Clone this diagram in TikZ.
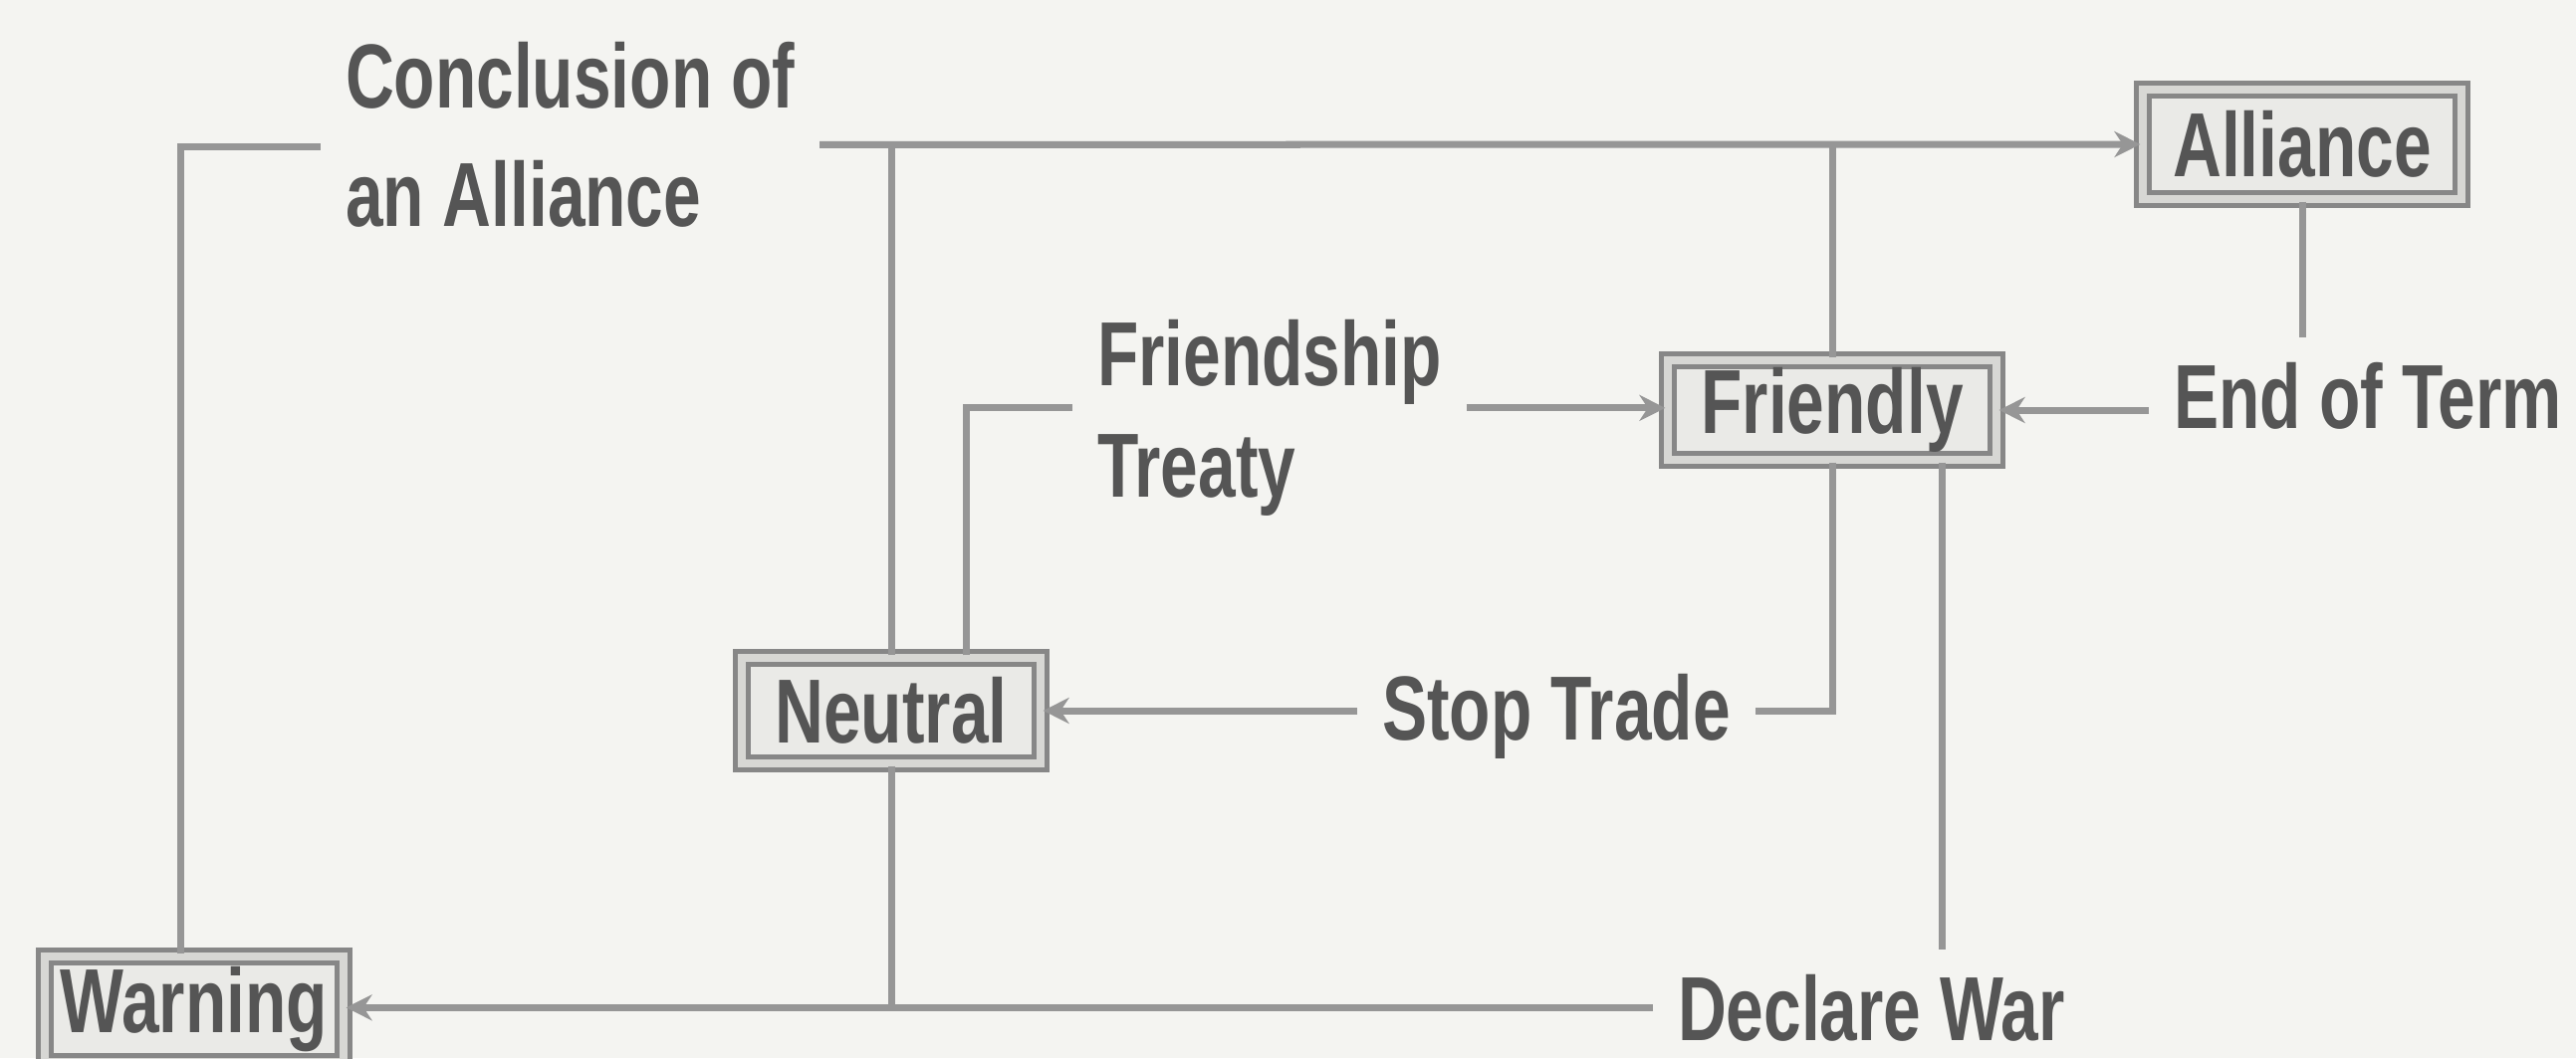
\documentclass[tikz,border=0pt]{standalone}
\usepackage{fontspec}
\setmainfont{Liberation Sans}[FakeStretch=0.74]
\usetikzlibrary{arrows.meta}
\definecolor{bgc}{RGB}{244,244,241}
\definecolor{linec}{RGB}{150,150,150}
\definecolor{txtc}{RGB}{85,85,85}
\definecolor{boxc}{RGB}{135,135,135}
\definecolor{boxin}{RGB}{215,215,212}
\definecolor{boxfill}{RGB}{234,234,231}
\begin{document}
\begin{tikzpicture}[x=0.01cm,y=-0.01cm,
  every node/.style={font=\fontsize{26}{33}\selectfont\bfseries, text=txtc},
  stbox/.style={draw=boxc, line width=0.5mm, double=boxin, double distance=0.8mm, fill=boxfill, inner sep=0pt},
  lbl/.style={inner sep=0pt, outer sep=0.25cm},
  conn/.style={draw=linec, line width=0.7mm},
  arr/.style={conn, -{Stealth[length=2.6mm,width=2.6mm]}}]
\fill[bgc] (0,0) rectangle (2587,1063);
\useasboundingbox (0,0) rectangle (2587,1063);

% state boxes
\node[stbox, minimum width=3.2cm, minimum height=1.1cm] (alliance) at (2312,145) {Alliance};
\node[stbox, minimum width=3.3cm, minimum height=1.0cm] (friendly) at (1840,412) {Friendly};
\node[stbox, minimum width=3.0cm, minimum height=1.06cm] (neutral) at (895,714) {Neutral};
\node[stbox, minimum width=3.0cm, minimum height=1.06cm] (warning) at (195,1014) {Warning};

% action labels
\node[lbl, align=left, anchor=north west, font=\fontsize{26}{34}\selectfont\bfseries] (concl) at (322,17) {Conclusion of\\an Alliance};
\node[lbl, align=left, anchor=north west, font=\fontsize{26}{32}\selectfont\bfseries] (friendship) at (1077,296) {Friendship\\Treaty};
\node[lbl, anchor=base west] (endterm) at (2158,430) {End of Term};
\node[lbl, anchor=base west] (stoptrade) at (1363,743) {Stop Trade};
\node[lbl, anchor=base west] (declwar) at (1660,1045) {Declare War};

% connectors
\draw[conn] ([xshift=-0.13cm]warning.north) |- ([yshift=-0.12cm]concl.west);
\draw[arr] ([yshift=-0.1cm]concl.east) -- (alliance.west);
\draw[conn] (neutral.north) -- (neutral.north |- alliance.west);
\draw[conn] (friendly.north) -- (friendly.north |- alliance.west);

\draw[conn] ([xshift=0.75cm]neutral.north) |- ([yshift=0.1cm]friendship.west);
\draw[arr] ([yshift=0.1cm]friendship.east) -- ([yshift=0.1cm]friendship.east -| friendly.west);

\draw[conn] (alliance.south) -- (alliance.south |- endterm.north);
\draw[arr] (endterm.west |- friendly.east) -- (friendly.east);

\draw[conn] (friendly.south) |- (stoptrade.east |- neutral.east);
\draw[arr] (stoptrade.west |- neutral.east) -- (neutral.east);

\draw[conn] ([xshift=1.1cm]friendly.south) -- ([xshift=1.1cm]friendly.south |- declwar.north);
\draw[conn] (neutral.south) -- (neutral.south |- declwar.west);
\draw[arr] (declwar.west) -- (declwar.west -| warning.east);
\end{tikzpicture}
\end{document}
